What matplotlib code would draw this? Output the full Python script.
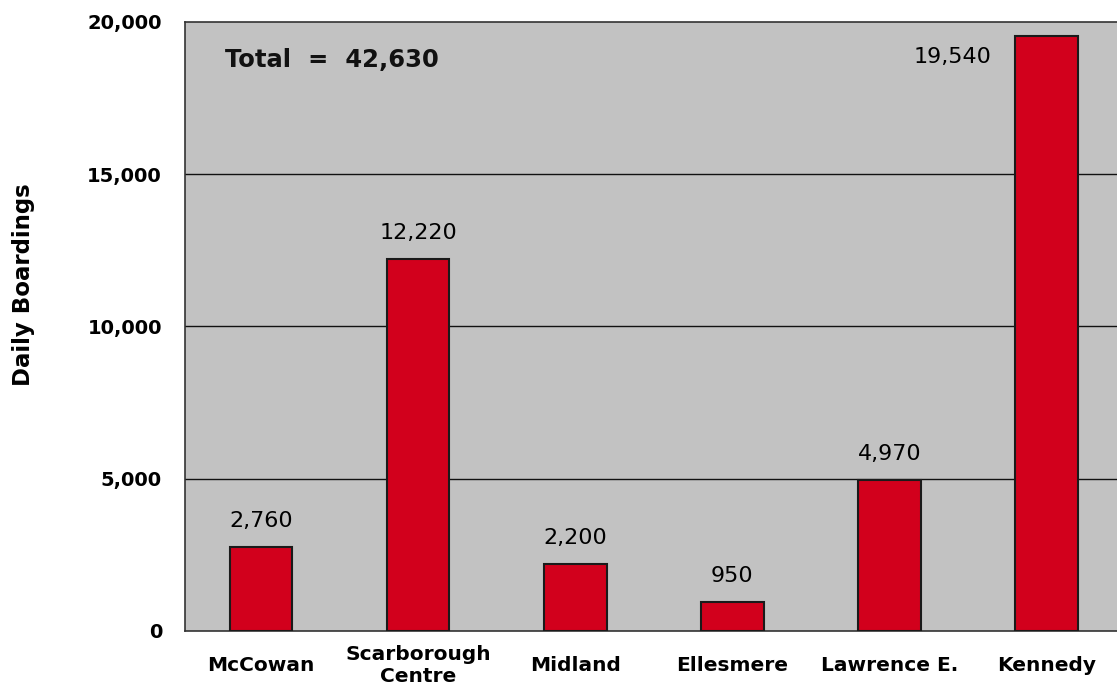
import matplotlib.pyplot as plt

stations = ['McCowan', 'Scarborough\nCentre', 'Midland', 'Ellesmere', 'Lawrence E.', 'Kennedy']
boardings = [2760, 12220, 2200, 950, 4970, 19540]
value_labels = ['2,760', '12,220', '2,200', '950', '4,970', '19,540']
total_text = 'Total  =  42,630'
y_ticks = [0, 5000, 10000, 15000, 20000]
y_tick_labels = ['0', '5,000', '10,000', '15,000', '20,000']

plt.rcParams['font.family'] = ['DejaVu Sans']

fig = plt.figure(figsize=(11.17, 6.85), dpi=100)
ax = fig.add_axes([0.1656, 0.079, 0.8344, 0.889])
ax.set_facecolor('#c2c2c2')

x = range(len(stations))
ax.bar(x, boardings, width=0.4, color='#d2001c', edgecolor='#1a1a1a', linewidth=1.5, zorder=3)

for i, (v, lab) in enumerate(zip(boardings, value_labels)):
    if i == len(stations) - 1:
        ax.text(i - 0.35, v - 700, lab, ha='right', va='center', fontsize=16, zorder=4)
    else:
        ax.text(i, v + 850, lab, ha='center', va='center', fontsize=16, zorder=4)

ax.text(0.043, 0.937, total_text, transform=ax.transAxes, ha='left', va='center',
        fontsize=17.5, fontweight='bold', color='#111111')

ax.set_xlim(-0.484, 5.45)
ax.set_ylim(0, 20000)
ax.set_yticks(y_ticks)
ax.set_yticklabels(y_tick_labels, fontsize=14, fontweight='bold')
ax.set_xticks(list(x))
ax.set_xticklabels(stations, fontsize=14.5, fontweight='bold', linespacing=1.2)
for t in ax.get_xticklabels():
    t.set_va('center')
ax.tick_params(length=0)
ax.tick_params(axis='x', pad=25)
ax.tick_params(axis='y', pad=16.5)

for yv in y_ticks[1:-1]:
    ax.axhline(yv, color='#111111', linewidth=1, zorder=2)

for side in ['left', 'bottom', 'top']:
    ax.spines[side].set_color('#333333')
    ax.spines[side].set_linewidth(1.2)
ax.spines['right'].set_visible(False)

fig.text(0.021, 0.585, 'Daily Boardings', rotation=90, ha='center', va='center',
         fontsize=16.5, fontweight='bold')

fig.savefig('out.png', dpi=100)
